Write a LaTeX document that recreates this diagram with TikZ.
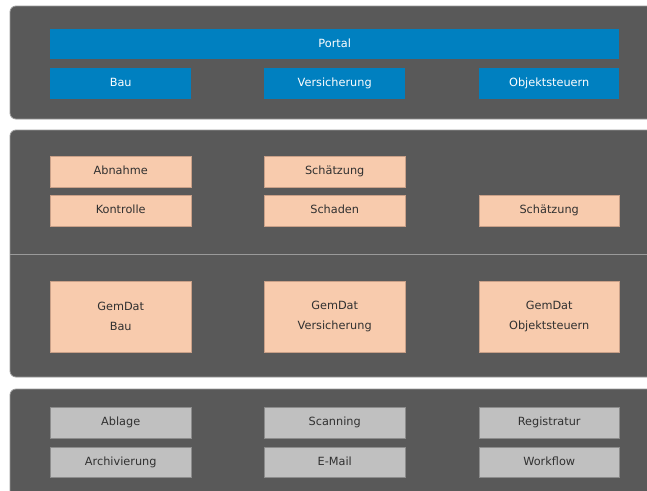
\documentclass[tikz,border=0pt]{standalone}
\usepackage{fontspec}
\setmainfont{DejaVu Sans}
\definecolor{panelfill}{HTML}{595959}
\definecolor{panelline}{HTML}{9A9A9A}
\definecolor{bluebox}{HTML}{0080C0}
\definecolor{peach}{HTML}{F8CBAD}
\definecolor{peachline}{HTML}{C9A088}
\definecolor{greybox}{HTML}{C0C0C0}
\definecolor{greyline}{HTML}{8C8C8C}
\definecolor{txtdark}{HTML}{303030}
\begin{document}
\begin{tikzpicture}[x=1pt,y=-1pt,
  panel/.style={fill=panelfill,draw=panelline,line width=0.8pt,rounded corners=6pt},
  box/.style={anchor=north west,inner sep=0pt,font=\fontsize{11.3}{20}\selectfont,align=center},
  oneline/.style={text height=8.5pt,text depth=2.5pt},
  bluestyle/.style={box,oneline,fill=bluebox,text=white},
  peachbase/.style={box,fill=peach,draw=peachline,line width=0.4pt,text=txtdark},
  peachstyle/.style={peachbase,oneline},
  greystyle/.style={box,oneline,fill=greybox,draw=greyline,line width=0.4pt,text=txtdark}]
\useasboundingbox (0,0) rectangle (647,490);
\fill[white] (0,0) rectangle (647,490);
% panels
\draw[panel] (10,6) rectangle (660,119);
\draw[panel] (10,130) rectangle (660,377);
\draw[panel] (10,389) rectangle (660,505);
\draw[panelline,line width=0.8pt] (10,254) -- (647,254);
% top
\node[bluestyle,minimum width=569pt,minimum height=30pt] (portal) at (50,29) {Portal};
\node[bluestyle,minimum width=141pt,minimum height=31pt] (bau) at (50,68) {Bau};
\node[bluestyle,minimum width=141pt,minimum height=31pt] (vers) at (264,68) {Versicherung};
\node[bluestyle,minimum width=140pt,minimum height=31pt] (obj) at (479,68) {Objektsteuern};
% middle
\node[peachstyle,minimum width=141pt,minimum height=31pt] (abn) at (50,156) {Abnahme};
\node[peachstyle,minimum width=141pt,minimum height=31pt] (sch1) at (264,156) {Schätzung};
\node[peachstyle,minimum width=141pt,minimum height=31pt] (kon) at (50,195) {Kontrolle};
\node[peachstyle,minimum width=141pt,minimum height=31pt] (sdn) at (264,195) {Schaden};
\node[peachstyle,minimum width=140pt,minimum height=31pt] (sch2) at (479,195) {Schätzung};
\node[peachbase,minimum width=141pt,minimum height=71pt] (gb) at (50,281) {GemDat\\Bau};
\node[peachbase,minimum width=141pt,minimum height=71pt] (gv) at (264,281) {GemDat\\Versicherung};
\node[peachbase,minimum width=140pt,minimum height=71pt] (go) at (479,281) {GemDat\\Objektsteuern};
% bottom
\node[greystyle,minimum width=141pt,minimum height=31pt] (abl) at (50,407) {Ablage};
\node[greystyle,minimum width=141pt,minimum height=31pt] (scan) at (264,407) {Scanning};
\node[greystyle,minimum width=140pt,minimum height=31pt] (reg) at (479,407) {Registratur};
\node[greystyle,minimum width=141pt,minimum height=30pt] (arc) at (50,447) {Archivierung};
\node[greystyle,minimum width=141pt,minimum height=30pt] (mail) at (264,447) {E-Mail};
\node[greystyle,minimum width=140pt,minimum height=30pt] (wf) at (479,447) {Workflow};
\end{tikzpicture}
\end{document}
